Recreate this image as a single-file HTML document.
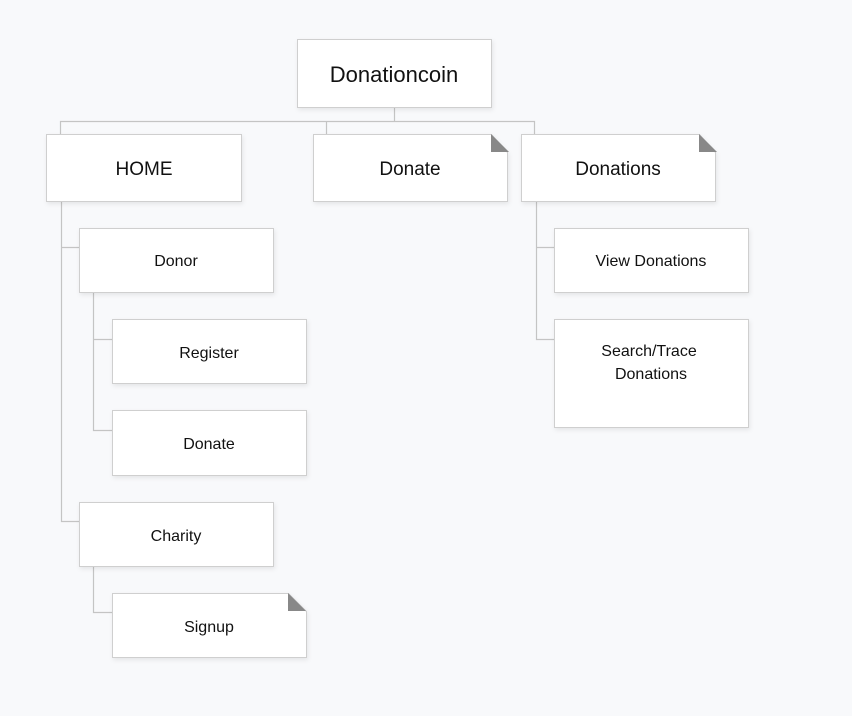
<!DOCTYPE html>
<html><head><meta charset="utf-8"><style>
html,body{margin:0;padding:0;background:#f8f9fb;}
svg{display:block;}
text{font-family:"Liberation Sans",sans-serif;fill:#111;text-anchor:middle;}
</style></head><body>
<svg width="852" height="716" viewBox="0 0 852 716" xmlns="http://www.w3.org/2000/svg">
<defs>
<filter id="sh" x="-10%" y="-10%" width="130%" height="140%"><feDropShadow dx="1" dy="2" stdDeviation="2" flood-color="#000" flood-opacity="0.08"/></filter>
</defs>
<g stroke="#c4c4c4" stroke-width="1.2" fill="none">
<path d="M394.5 107V121.5M60.5 134V121.5H534.5V134M326.5 121.5V134"/>
<path d="M61.5 201V521.5H79M61.5 247.5H79"/>
<path d="M93.5 292V430.5H112M93.5 339.5H112"/>
<path d="M93.5 566V612.5H112"/>
<path d="M536.5 201V339.5H554M536.5 247.5H554"/>
</g>
<g fill="#fff" stroke="#cfcfcf" stroke-width="1" filter="url(#sh)">
<rect x="297.5" y="39.5" width="194" height="68"/>
<rect x="46.5" y="134.5" width="195" height="67"/>
<path d="M313.5 134.5H491.5L507.5 152.5V201.5H313.5Z"/>
<path d="M521.5 134.5H699.5L715.5 152.5V201.5H521.5Z"/>
<rect x="79.5" y="228.5" width="194" height="64"/>
<rect x="112.5" y="319.5" width="194" height="64"/>
<rect x="112.5" y="410.5" width="194" height="65"/>
<rect x="79.5" y="502.5" width="194" height="64"/>
<path d="M112.5 593.5H288.5L306.5 611.5V657.5H112.5Z"/>
<rect x="554.5" y="228.5" width="194" height="64"/>
<rect x="554.5" y="319.5" width="194" height="108"/>
</g>
<g fill="#888">
<path d="M491 134V152H509Z"/>
<path d="M699 134V152H717Z"/>
<path d="M288 593V611H306Z"/>
</g>
<text x="394" y="82" font-size="22">Donationcoin</text>
<text x="144" y="175" font-size="19">HOME</text>
<text x="410" y="175" font-size="19">Donate</text>
<text x="618" y="175" font-size="19">Donations</text>
<g font-size="16">
<text x="176" y="266">Donor</text>
<text x="209" y="358">Register</text>
<text x="209" y="449">Donate</text>
<text x="176" y="541">Charity</text>
<text x="209" y="632">Signup</text>
<text x="651" y="266">View Donations</text>
<text x="649" y="356">Search/Trace</text>
<text x="651" y="379">Donations</text>
</g>
</svg>
</body></html>
